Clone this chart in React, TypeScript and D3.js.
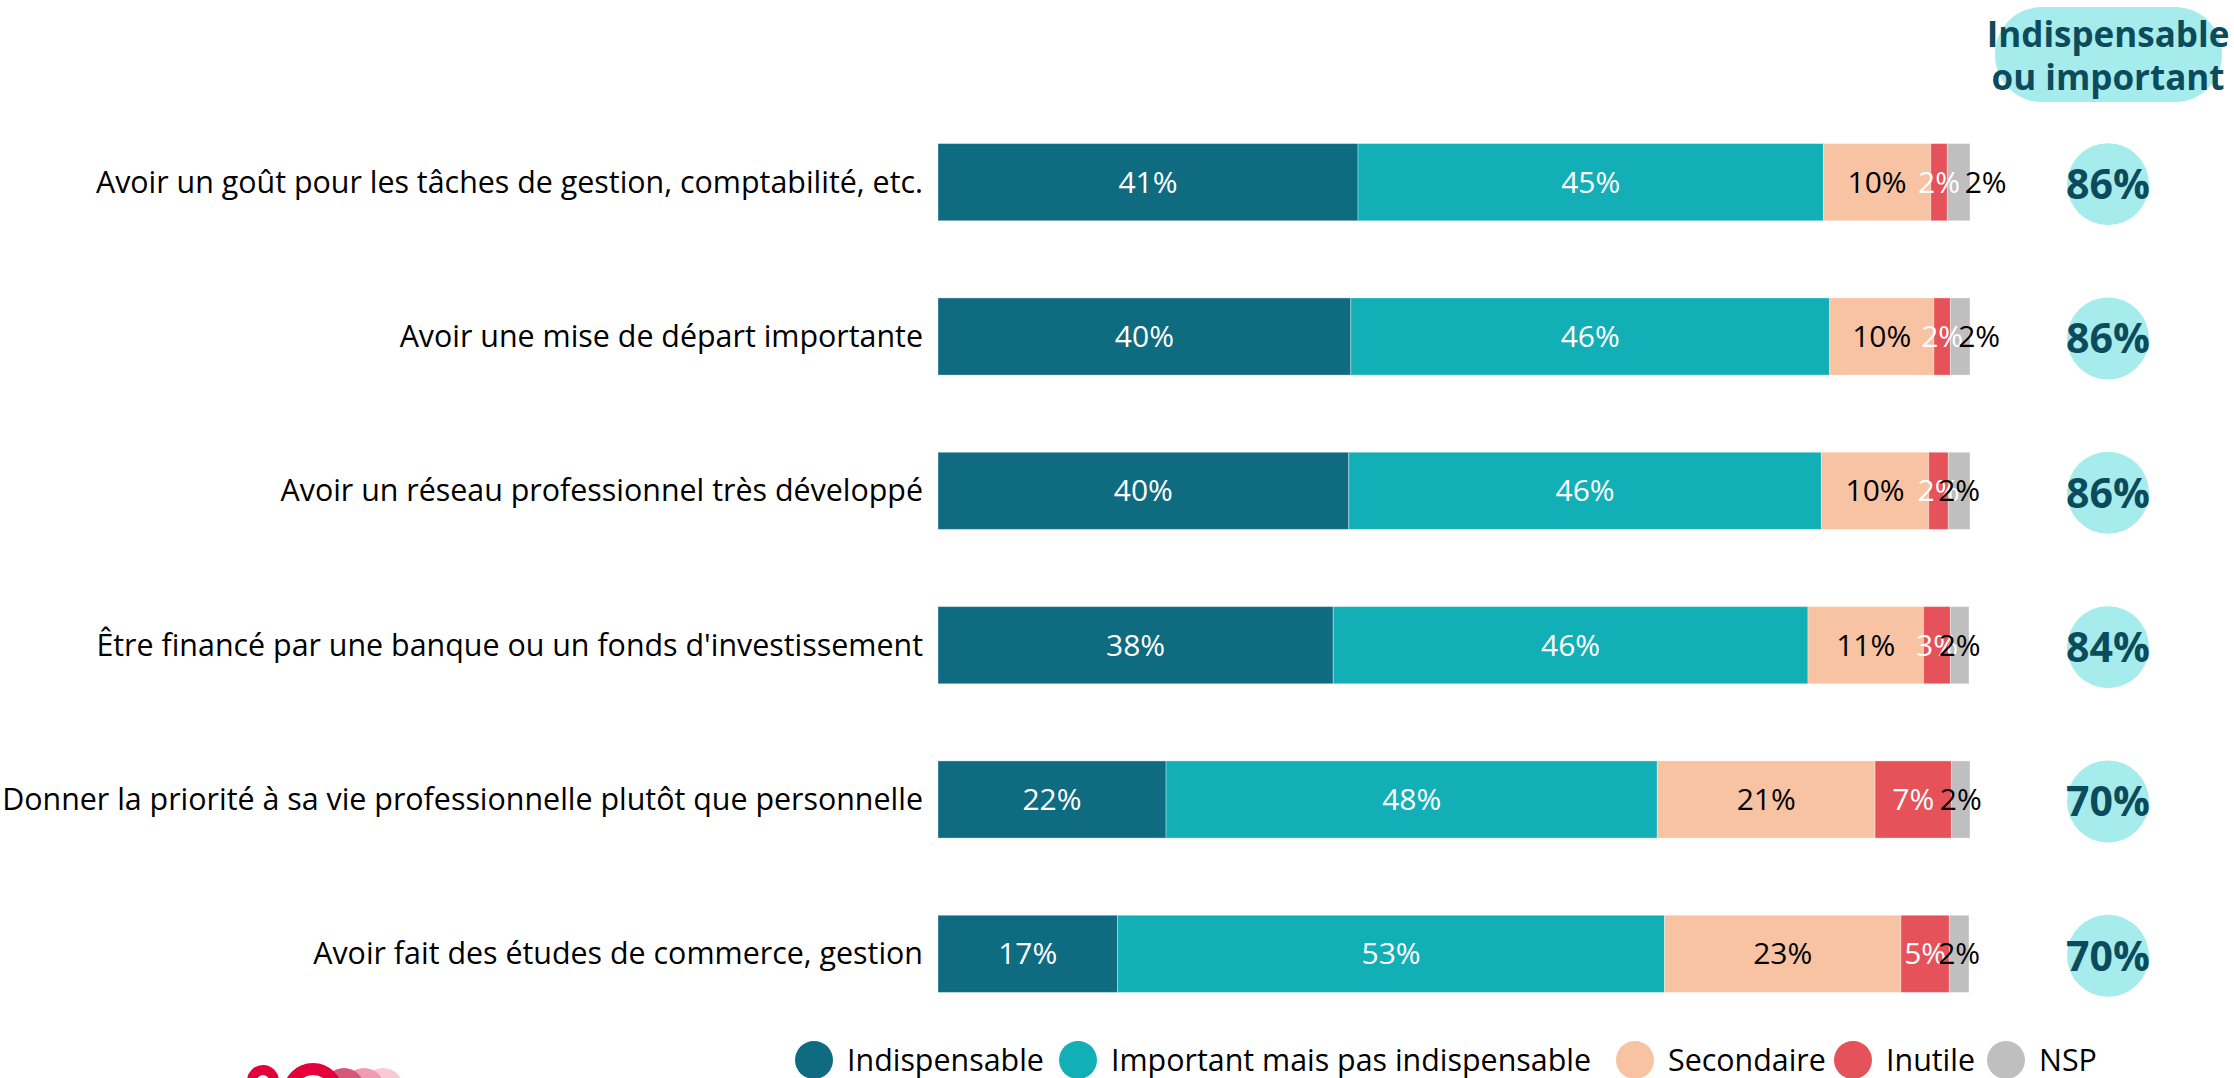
import React from "react";
import * as d3 from "d3";

const categories = [
  "Avoir un goût pour les tâches de gestion, comptabilité, etc.",
  "Avoir une mise de départ importante",
  "Avoir un réseau professionnel très développé",
  "Être financé par une banque ou un fonds d'investissement",
  "Donner la priorité à sa vie professionnelle plutôt que personnelle",
  "Avoir fait des études de commerce, gestion",
];
const seriesNames = ["Indispensable", "Important mais pas indispensable", "Secondaire", "Inutile", "NSP"];
const indispensable = [40.7, 40.0, 39.8, 38.3, 22.1, 17.4];
const important = [45.1, 46.4, 45.8, 46.0, 47.6, 53.0];
const secondaire = [10.4, 10.1, 10.4, 11.2, 21.1, 22.9];
const inutile = [1.6, 1.6, 1.9, 2.6, 7.4, 4.7];
const nsp = [2.2, 1.9, 2.1, 1.8, 1.8, 1.9];
const totalIndispOuImportant = [86, 86, 86, 84, 70, 70];
const headerLines = ["Indispensable", "ou important"];

const colors = ["#0e6b80", "#13afb7", "#f7c3a3", "#e5525a", "#bfbfbf"];
const labelColors = ["#ffffff", "#ffffff", "#000000", "#ffffff", "#000000"];
const FONT = "'Open Sans', 'Noto Sans', sans-serif";
const FS = 30.4;

export default function App() {
  const W = 2234, H = 1078;
  const table = categories.map((c, i) => ({
    cat: c,
    [seriesNames[0]]: indispensable[i],
    [seriesNames[1]]: important[i],
    [seriesNames[2]]: secondaire[i],
    [seriesNames[3]]: inutile[i],
    [seriesNames[4]]: nsp[i],
  }));
  const stacked = d3.stack<any>().keys(seriesNames)(table);
  const x = d3.scaleLinear().domain([0, 100]).range([938, 1970]);
  const y = d3.scaleBand().domain(categories).range([105, 1031]).paddingInner(0.5).paddingOuter(0.25);
  const bw = y.bandwidth();
  const fmt = d3.format(".0f");
  const nspNudge = [27, 19, 0, 0, 0, 0];
  const legendX = [814, 1078, 1635, 1853, 2006];
  const colX = 2108;

  return (
    <svg width={W} height={H} style={{ position: "fixed", left: 0, top: 0, background: "#fff" }} fontFamily={FONT}>
      {/* row labels */}
      {categories.map((c) => (
        <text key={c} x={923} y={(y(c) as number) + bw / 2} dy="0.35em" textAnchor="end" fontSize={FS} fill="#000">
          {c}
        </text>
      ))}
      {/* bars */}
      {stacked.map((s, si) => (
        <g key={s.key} fill={colors[si]}>
          {s.map((d, i) => (
            <rect key={i} x={x(d[0])} y={y(categories[i])} width={x(d[1]) - x(d[0])} height={bw}
              stroke="#ffffff" strokeOpacity={0.35} strokeWidth={1} />
          ))}
        </g>
      ))}
      {stacked.map((s, si) => (
        <g key={"l" + s.key}>
          {s.map((d, i) => (
            <text key={i} x={(x(d[0]) + x(d[1])) / 2 + (si === 4 ? nspNudge[i] : 0)}
              y={(y(categories[i]) as number) + bw / 2} dy="0.35em" textAnchor="middle"
              fontSize={30} fill={labelColors[si]}>
              {fmt(d[1] - d[0]) + "%"}
            </text>
          ))}
        </g>
      ))}
      {/* header */}
      <rect x={1995} y={7} width={227} height={95} rx={47} fill="#a6ecec" />
      {headerLines.map((t, i) => (
        <text key={t} x={colX} y={47 + i * 43} textAnchor="middle" fontSize={35} fontWeight={700} fill="#0b4b5b">
          {t}
        </text>
      ))}
      {/* totals */}
      {categories.map((c, i) => (
        <g key={"t" + i}>
          <circle cx={colX} cy={(y(c) as number) + bw / 2 + 2} r={41} fill="#a6ecec" />
          <text x={colX} y={(y(c) as number) + bw / 2 + 2} dy="0.36em" textAnchor="middle" fontSize={41} fontWeight={700} fill="#0b4b5b">
            {totalIndispOuImportant[i] + "%"}
          </text>
        </g>
      ))}
      {/* legend */}
      {seriesNames.map((n, i) => (
        <g key={"lg" + n}>
          <circle cx={legendX[i]} cy={1060} r={19} fill={colors[i]} />
          <text x={legendX[i] + 33} y={1060} dy="0.35em" fontSize={FS} fill="#000">{n}</text>
        </g>
      ))}
      {/* logo (cut off) */}
      <g>
        <circle cx={383} cy={1088} r={20} fill="#f8c9d6" />
        <circle cx={364} cy={1088} r={20} fill="#f19bb2" />
        <circle cx={344} cy={1088} r={20} fill="#d4587a" />
        <circle cx={263} cy={1081} r={11} fill="none" stroke="#e4003b" strokeWidth={10} />
        <circle cx={313} cy={1093} r={24} fill="none" stroke="#e4003b" strokeWidth={12} />
      </g>
    </svg>
  );
}
